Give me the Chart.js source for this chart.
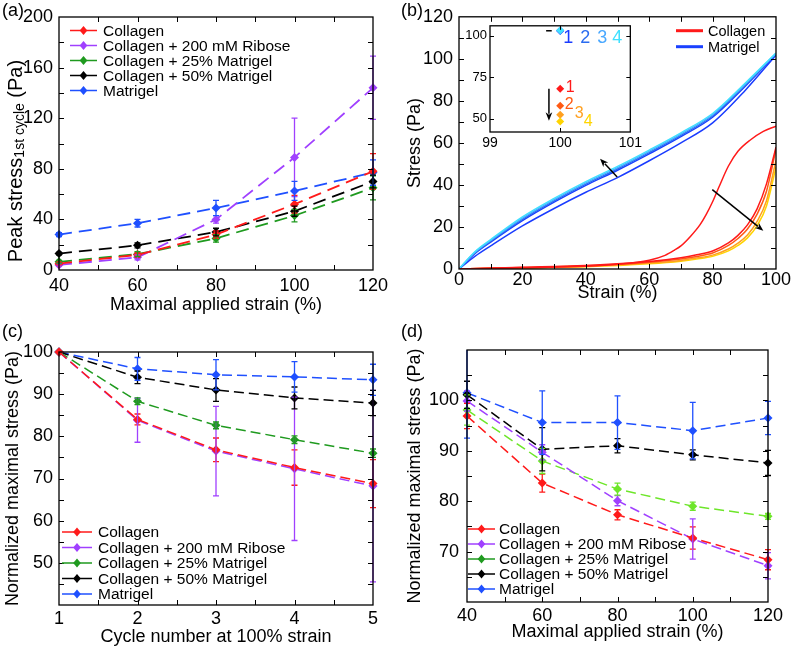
<!DOCTYPE html>
<html>
<head>
<meta charset="utf-8">
<script src="https://cdn.jsdelivr.net/npm/chart.js@4.4.1/dist/chart.umd.min.js"></script>
<style>
  body { margin: 0; background: #fff; font-family: "Liberation Sans", Arial, Helvetica, sans-serif; }
  #page { position: relative; width: 792px; height: 648px; overflow: hidden; }
  #page canvas { position: absolute; }
  .tag { position: absolute; font-size: 18px; line-height: 20px; }
</style>
</head>
<body>
<div id="page">
  <canvas id="chartA" width="396" height="320" style="left:0;top:0"></canvas>
  <canvas id="chartB" width="396" height="320" style="left:396px;top:0"></canvas>
  <canvas id="chartInset" width="183" height="137" style="left:462px;top:15px"></canvas>
  <canvas id="chartC" width="396" height="328" style="left:0;top:320px"></canvas>
  <canvas id="chartD" width="396" height="328" style="left:396px;top:320px"></canvas>
  <div class="tag" style="left:2px;top:0">(a)</div>
  <div class="tag" style="left:401px;top:0">(b)</div>
  <div class="tag" style="left:2px;top:321px">(c)</div>
  <div class="tag" style="left:401px;top:321px">(d)</div>
</div>
<script>
const FONT = '"Liberation Sans", Arial, Helvetica, sans-serif';

const seriesNames = ['Collagen', 'Collagen + 200 mM Ribose', 'Collagen + 25% Matrigel', 'Collagen + 50% Matrigel', 'Matrigel'];
const seriesColors = ['#ff1a1a', '#a040ff', '#1f9a1f', '#000000', '#1f50ff'];
const limeGreen = '#6ee62a';

// (a) peak stress of the 1st cycle vs maximal applied strain
const appliedStrain = [40, 60, 80, 100, 120];
const peakCollagen = [5, 12, 28, 52, 78];
const peakRibose = [4, 10, 40, 89, 144];
const peakMat25 = [6.5, 12.5, 25, 43, 65];
const peakMat50 = [13, 19.5, 30, 46.5, 70];
const peakMatrigel = [28, 37, 49, 62.5, 77];
const peakErrCollagen = [1, 2, 3, 7, 14];
const peakErrRibose = [1, 2, 3, 31, 25];
const peakErrMat25 = [1, 2, 3, 5, 9.5];
const peakErrMat50 = [1, 2, 3, 4, 5];
const peakErrMatrigel = [1.5, 3, 6, 7.5, 10];

// (b) stress-strain loops, 4 cycles
const matrigelStrain = [0, 5, 10, 20, 30, 40, 50, 60, 70, 80, 90, 100];
const matrigelLoad1 = [0, 6.0, 11.0, 20.5, 28.8, 36.5, 43.5, 51.5, 60.0, 69.5, 84.5, 101.8];
const matrigelUnload1 = [0, 7.3, 12.8, 23.0, 31.8, 39.8, 47.0, 54.8, 63.0, 72.2, 86.5, 102.2];
const matrigelCycle2 = [0, 7.6, 13.2, 23.6, 32.4, 40.4, 47.6, 55.4, 63.6, 72.8, 87.0, 102.4];
const matrigelCycle3 = [0, 7.9, 13.6, 24.2, 33.0, 41.0, 48.2, 56.0, 64.2, 73.4, 87.5, 102.6];
const matrigelCycle4 = [0, 8.2, 14.0, 24.8, 33.6, 41.6, 48.8, 56.6, 64.8, 74.0, 88.0, 102.8];
const collagenStrain1 = [0, 20, 40, 50, 60, 65, 68, 70, 73, 76, 78, 80, 82, 85, 88, 92, 96, 100];
const collagenLoad1 = [0, 0.6, 1.3, 2.2, 4.2, 6.5, 9, 11, 15.5, 21, 26, 32, 39, 49, 56, 61.5, 65.5, 68];
const collagenStrain = [0, 20, 40, 60, 70, 75, 80, 85, 88, 91, 94, 97, 100];
const collagenUnload1 = [0, 0.8, 1.7, 3.6, 5.4, 6.8, 8.6, 12.4, 16, 21, 28.5, 40.5, 58];
const collagenCycle2 = [0, 0.7, 1.5, 3.2, 4.8, 6.0, 7.6, 11.2, 14.5, 19, 26, 37, 57];
const collagenCycle3 = [0, 0.6, 1.3, 2.8, 4.1, 5.2, 6.6, 9.5, 12.3, 16.2, 22.5, 32.5, 51.7];
const collagenCycle4 = [0, 0.5, 1.1, 2.5, 3.7, 4.7, 6.0, 8.6, 11.2, 14.8, 20.5, 30, 48.5];
const collagenCycleColors = ['#ff1a1a', '#ff5a14', '#ffa020', '#ffd400'];
const matrigelCycleColors = ['#1a3cff', '#2a6cf0', '#4aa8ff', '#40e0ff'];

// (b) inset: peak stress per cycle
const insetStrain = [100, 100, 100, 100];
const insetMatrigel = [102.9, 103.1, 103.2, 103.3];
const insetCollagen = [68.1, 57.8, 52.4, 48.4];
const insetTicksY = [50, 75, 100];
const cycleLabels = ['1', '2', '3', '4'];

// (c) normalized maximal stress vs cycle number
const cycleNumber = [1, 2, 3, 4, 5];
const cycCollagen = [100, 84, 76.8, 72.6, 68.8];
const cycRibose = [100, 83.8, 76.5, 72.3, 68.2];
const cycMat25 = [100, 88.3, 82.6, 79.2, 76];
const cycMat50 = [100, 94, 91, 89.1, 87.9];
const cycMatrigel = [100, 96, 94.6, 94.1, 93.4];
const cycErrCollagen = [0, 1.3, 2.8, 4.2, 5.7];
const cycErrRibose = [0, 5.2, 10.6, 17, 22.7];
const cycErrMat25 = [0, 0.8, 0.8, 0.9, 1];
const cycErrMat50 = [0, 1.5, 2.7, 2.6, 3];
const cycErrMatrigel = [0, 2.7, 3.6, 3.6, 3.7];

// (d) normalized maximal stress vs maximal applied strain
const normCollagen = [96.9, 83.6, 77.3, 72.7, 68.4];
const normRibose = [99.9, 89.7, 80.1, 72.5, 67.2];
const normMat25 = [98.1, 88.0, 82.4, 79.0, 77.0];
const normMat50 = [101.1, 90.3, 91.0, 89.2, 87.6];
const normMatrigel = [101.5, 95.6, 95.6, 94.0, 96.5];
const normErrCollagen = [2.5, 1.8, 1, 2.2, 2];
const normErrRibose = [2, 1.5, 1, 4, 2.6];
const normErrMat25 = [3, 2.5, 1.2, 0.8, 0.6];
const normErrMat50 = [2.7, 4.3, 1.4, 1.0, 2.5];
const normErrMatrigel = [9, 6.3, 5.3, 5.6, 3.3];

Chart.defaults.font.family = FONT;
Chart.defaults.font.size = 18;
Chart.defaults.color = '#000';
Chart.defaults.animation = false;
Chart.defaults.plugins.legend.display = false;
Chart.defaults.plugins.tooltip.enabled = false;

function diamond(ctx, x, y, r, color) {
    ctx.fillStyle = color;
    ctx.beginPath();
    ctx.moveTo(x, y - r);
    ctx.lineTo(x + r * 0.85, y);
    ctx.lineTo(x, y + r);
    ctx.lineTo(x - r * 0.85, y);
    ctx.closePath();
    ctx.fill();
}

// box around the plot area with inward ticks on all four sides (matlab look)
const framePlugin = {
    id: 'frame',
    afterDraw(chart, args, opts) {
        const { ctx, chartArea: a, scales } = chart;
        const len = opts.len || 5;
        ctx.save();
        ctx.strokeStyle = '#000';
        ctx.lineWidth = 1;
        ctx.beginPath();
        scales.x.ticks.forEach(t => {
            const px = Math.round(scales.x.getPixelForValue(t.value)) + 0.5;
            if (px <= a.left + 2 || px >= a.right - 2) return;
            ctx.moveTo(px, a.bottom); ctx.lineTo(px, a.bottom - len);
            ctx.moveTo(px, a.top); ctx.lineTo(px, a.top + len);
        });
        scales.y.ticks.forEach(t => {
            const py = Math.round(scales.y.getPixelForValue(t.value)) + 0.5;
            if (py <= a.top + 2 || py >= a.bottom - 2) return;
            ctx.moveTo(a.left, py); ctx.lineTo(a.left + len, py);
            ctx.moveTo(a.right, py); ctx.lineTo(a.right - len, py);
        });
        ctx.stroke();
        ctx.lineWidth = 1.3;
        ctx.strokeRect(a.left, a.top, a.right - a.left, a.bottom - a.top);
        ctx.restore();
    }
};

const errorBarPlugin = {
    id: 'errorBars',
    afterDatasetsDraw(chart) {
        const ctx = chart.ctx;
        const ys = chart.scales.y;
        chart.data.datasets.forEach((ds, i) => {
            if (!ds.errors) return;
            const meta = chart.getDatasetMeta(i);
            ctx.save();
            ctx.strokeStyle = ds.borderColor;
            ctx.lineWidth = 1.3;
            meta.data.forEach((pt, j) => {
                const e = ds.errors[j];
                if (!e) return;
                const v = ds.data[j].y;
                const top = Math.max(ys.getPixelForValue(v + e), chart.chartArea.top);
                const bot = ys.getPixelForValue(v - e);
                ctx.beginPath();
                ctx.moveTo(pt.x, top); ctx.lineTo(pt.x, bot);
                if (top > chart.chartArea.top) { ctx.moveTo(pt.x - 3, top); ctx.lineTo(pt.x + 3, top); }
                ctx.moveTo(pt.x - 3, bot); ctx.lineTo(pt.x + 3, bot);
                ctx.stroke();
            });
            ctx.restore();
        });
    }
};

// legend drawn inside the plot box: line sample, optional diamond, text
const keyPlugin = {
    id: 'key',
    afterDraw(chart, args, o) {
        if (!o.items) return;
        const ctx = chart.ctx;
        ctx.save();
        ctx.font = o.size + 'px ' + FONT;
        ctx.textBaseline = 'middle';
        o.items.forEach((it, i) => {
            const y = o.y + i * o.rowH;
            ctx.strokeStyle = it.color;
            ctx.lineWidth = o.lineWidth;
            ctx.beginPath();
            ctx.moveTo(o.x, y); ctx.lineTo(o.x + o.lineLen, y);
            ctx.stroke();
            if (o.marker) diamond(ctx, o.x + o.lineLen / 2, y, 4.5, it.color);
            ctx.fillStyle = '#000';
            ctx.fillText(it.text, o.textX, y + 1);
        });
        ctx.restore();
    }
};

// arrows given in data units of the chart
const arrowPlugin = {
    id: 'arrows',
    afterDatasetsDraw(chart, args, o) {
        if (!o.list) return;
        const { ctx, scales: { x, y } } = chart;
        ctx.save();
        ctx.strokeStyle = '#000';
        ctx.fillStyle = '#000';
        ctx.lineWidth = 1.5;
        o.list.forEach(a => {
            const x0 = x.getPixelForValue(a[0]), y0 = y.getPixelForValue(a[1]);
            const x1 = x.getPixelForValue(a[2]), y1 = y.getPixelForValue(a[3]);
            const ang = Math.atan2(y1 - y0, x1 - x0);
            const h = o.head || 9;
            ctx.beginPath();
            ctx.moveTo(x0, y0);
            ctx.lineTo(x1 - (h - 2) * Math.cos(ang), y1 - (h - 2) * Math.sin(ang));
            ctx.stroke();
            ctx.beginPath();
            ctx.moveTo(x1, y1);
            ctx.lineTo(x1 - h * Math.cos(ang - 0.38), y1 - h * Math.sin(ang - 0.38));
            ctx.lineTo(x1 - (h - 3) * Math.cos(ang), y1 - (h - 3) * Math.sin(ang));
            ctx.lineTo(x1 - h * Math.cos(ang + 0.38), y1 - h * Math.sin(ang + 0.38));
            ctx.closePath();
            ctx.fill();
        });
        ctx.restore();
    }
};

function axis(min, max, step, showLabel, pad, size, fitKey, fitVal, title) {
    const cfg = {
        type: 'linear',
        min: min,
        max: max,
        grid: { display: false, drawTicks: false },
        border: { display: false },
        ticks: {
            stepSize: step,
            autoSkip: false,
            maxRotation: 0,
            padding: pad,
            font: { size: size },
            callback: v => (showLabel(v) ? v : ''),
        },
        afterFit: s => { s[fitKey] = fitVal; },
    };
    if (title) cfg.title = title;
    return cfg;
}

const every = n => v => Math.abs(v / n - Math.round(v / n)) < 1e-6;

function series(label, xs, ys, errs, color, dash, width) {
    return {
        label: label,
        data: xs.map((x, i) => ({ x: x, y: ys[i] })),
        errors: errs,
        borderColor: color,
        backgroundColor: color,
        borderWidth: width || 1.5,
        borderDash: dash,
        pointStyle: 'rectRot',
        pointRadius: 4.5,
        pointBorderWidth: 0,
        pointBackgroundColor: color,
        clip: false,
    };
}

function curve(xs, ys, color) {
    return {
        data: xs.map((x, i) => ({ x: x, y: ys[i] })),
        borderColor: color,
        borderWidth: 1.5,
        pointRadius: 0,
        cubicInterpolationMode: 'monotone',
    };
}

const legendItems = seriesNames.map((t, i) => ({ text: t, color: seriesColors[i] }));

// ---------- (a)
const peakTitle = {
    id: 'peakTitle',
    afterDraw(chart) {
        const ctx = chart.ctx;
        const parts = [['Peak stress', 20, 0], ['1st cycle', 14, 4], [' (Pa)', 20, 0]];
        ctx.save();
        let w = 0;
        parts.forEach(p => { ctx.font = p[1] + 'px ' + FONT; w += ctx.measureText(p[0]).width; });
        ctx.translate(16, 161);
        ctx.rotate(-Math.PI / 2);
        ctx.fillStyle = '#000';
        ctx.textBaseline = 'middle';
        let x = -w / 2;
        parts.forEach(p => {
            ctx.font = p[1] + 'px ' + FONT;
            ctx.fillText(p[0], x, p[2]);
            x += ctx.measureText(p[0]).width;
        });
        ctx.restore();
    }
};

new Chart(document.getElementById('chartA'), {
    type: 'line',
    data: {
        datasets: [
            series(seriesNames[0], appliedStrain, peakCollagen, peakErrCollagen, seriesColors[0], [13, 7], 1.8),
            series(seriesNames[1], appliedStrain, peakRibose, peakErrRibose, seriesColors[1], [13, 7], 1.8),
            series(seriesNames[2], appliedStrain, peakMat25, peakErrMat25, seriesColors[2], [13, 7], 1.8),
            series(seriesNames[3], appliedStrain, peakMat50, peakErrMat50, seriesColors[3], [13, 7], 1.8),
            series(seriesNames[4], appliedStrain, peakMatrigel, peakErrMatrigel, seriesColors[4], [13, 7], 1.8),
        ]
    },
    options: {
        responsive: false,
        layout: { padding: { top: 17, right: 23, left: 0, bottom: 0 } },
        scales: {
            x: axis(40, 120, 10, every(20), 5, 18, 'height', 50,
                { display: true, text: 'Maximal applied strain (%)', font: { size: 18 }, padding: { top: 0, bottom: 4 } }),
            y: axis(0, 200, 20, every(40), 6, 18, 'width', 59),
        },
        plugins: {
            key: { items: legendItems, x: 70, y: 30.5, rowH: 15, lineLen: 27, textX: 103, size: 15.5, lineWidth: 1.5, marker: true },
        }
    },
    plugins: [errorBarPlugin, framePlugin, keyPlugin, peakTitle]
});

// ---------- (b)
new Chart(document.getElementById('chartB'), {
    type: 'line',
    data: {
        datasets: [
            curve(collagenStrain1, collagenLoad1, collagenCycleColors[0]),
            curve(collagenStrain, collagenUnload1, collagenCycleColors[0]),
            curve(collagenStrain, collagenCycle2, collagenCycleColors[1]),
            curve(collagenStrain, collagenCycle3, collagenCycleColors[2]),
            curve(collagenStrain, collagenCycle4, collagenCycleColors[3]),
            curve(matrigelStrain, matrigelCycle4, matrigelCycleColors[3]),
            curve(matrigelStrain, matrigelCycle3, matrigelCycleColors[2]),
            curve(matrigelStrain, matrigelCycle2, matrigelCycleColors[1]),
            curve(matrigelStrain, matrigelUnload1, matrigelCycleColors[0]),
            curve(matrigelStrain, matrigelLoad1, matrigelCycleColors[0]),
        ]
    },
    options: {
        responsive: false,
        layout: { padding: { top: 16, right: 16, left: 5, bottom: 12 } },
        scales: {
            x: axis(0, 100, 10, every(20), 0, 18, 'height', 39,
                { display: true, text: 'Strain (%)', font: { size: 18 }, padding: { top: 0, bottom: 4 } }),
            y: axis(0, 120, 10, every(20), 6, 18, 'width', 58,
                { display: true, text: 'Stress (Pa)', font: { size: 18 }, padding: { top: 3, bottom: 0 } }),
        },
        plugins: {
            key: {
                items: [{ text: 'Collagen', color: '#ff1a1a' }, { text: 'Matrigel', color: '#1a40ff' }],
                x: 280, y: 30.7, rowH: 16, lineLen: 27, textX: 312, size: 14.5, lineWidth: 3, marker: false
            },
            arrows: { list: [[49.9, 43.8, 44.5, 52.5], [79.9, 37.8, 96, 18.2]] },
        }
    },
    plugins: [framePlugin, keyPlugin, arrowPlugin]
});

// ---------- (b) inset
const insetLabels = {
    id: 'insetLabels',
    beforeDraw(chart) {
        const { ctx, chartArea: a } = chart;
        ctx.save();
        ctx.fillStyle = '#fff';
        ctx.fillRect(a.left, a.top, a.right - a.left, a.bottom - a.top);
        ctx.restore();
    },
    afterDraw(chart) {
        const { ctx, scales: { x, y } } = chart;
        const px = x.getPixelForValue(insetStrain[0]);
        ctx.save();
        ctx.textBaseline = 'middle';
        ctx.textAlign = 'center';
        const blueOff = [8, 25, 42, 57];
        ctx.font = '18px ' + FONT;
        cycleLabels.forEach((t, i) => {
            ctx.fillStyle = matrigelCycleColors[i];
            ctx.fillText(t, px + blueOff[i], y.getPixelForValue(insetMatrigel[0]) + 7);
        });
        const redOff = [[10, -1.5], [9, -1.5], [19, -1], [28, 0]];
        ctx.font = '16px ' + FONT;
        cycleLabels.forEach((t, i) => {
            ctx.fillStyle = collagenCycleColors[i];
            ctx.fillText(t, px + redOff[i][0], y.getPixelForValue(insetCollagen[i]) + redOff[i][1]);
        });
        // short black dash left of the matrigel marker
        ctx.strokeStyle = '#000';
        ctx.lineWidth = 1.5;
        ctx.beginPath();
        ctx.moveTo(x.getPixelForValue(99.8), y.getPixelForValue(103));
        ctx.lineTo(x.getPixelForValue(99.88), y.getPixelForValue(103));
        ctx.stroke();
        ctx.restore();
    }
};

const insetY = axis(42, 106, 25, () => true, 3, 13, 'width', 28);
insetY.afterBuildTicks = s => { s.ticks = insetTicksY.map(v => ({ value: v })); };

new Chart(document.getElementById('chartInset'), {
    type: 'line',
    data: {
        datasets: [
            {
                data: insetStrain.map((x, i) => ({ x: x, y: insetCollagen[i] })),
                showLine: false, pointStyle: 'rectRot', pointRadius: 4, pointBorderWidth: 0,
                pointBackgroundColor: collagenCycleColors, borderColor: '#ff1a1a',
            },
            {
                data: insetStrain.map((x, i) => ({ x: x, y: insetMatrigel[i] })),
                showLine: false, pointStyle: 'rectRot', pointRadius: 4, pointBorderWidth: 0,
                pointBackgroundColor: matrigelCycleColors, borderColor: '#1a3cff',
            },
        ]
    },
    options: {
        responsive: false,
        layout: { padding: { top: 0, right: 0, left: 0, bottom: 0 } },
        scales: {
            x: axis(99, 101, 1, every(1), 3, 14, 'height', 20),
            y: insetY,
        },
        plugins: {
            frame: { len: 4 },
            arrows: { list: [[99.84, 68, 99.84, 48.8]], head: 9 },
        }
    },
    plugins: [insetLabels, framePlugin, arrowPlugin]
});

// ---------- (c)
new Chart(document.getElementById('chartC'), {
    type: 'line',
    data: {
        datasets: [
            series(seriesNames[0], cycleNumber, cycCollagen, cycErrCollagen, seriesColors[0], [10, 5]),
            series(seriesNames[1], cycleNumber, cycRibose, cycErrRibose, seriesColors[1], [10, 5]),
            series(seriesNames[2], cycleNumber, cycMat25, cycErrMat25, seriesColors[2], [10, 5]),
            series(seriesNames[3], cycleNumber, cycMat50, cycErrMat50, seriesColors[3], [10, 5]),
            series(seriesNames[4], cycleNumber, cycMatrigel, cycErrMatrigel, seriesColors[4], [10, 5]),
        ]
    },
    options: {
        responsive: false,
        layout: { padding: { top: 32, right: 23, left: 0, bottom: 0 } },
        scales: {
            x: axis(1, 5, 0.5, every(1), 3, 18, 'height', 43,
                { display: true, text: 'Cycle number at 100% strain', font: { size: 18 }, padding: { top: 0, bottom: 0 } }),
            y: axis(40, 100, 5, v => v >= 50 && every(10)(v), 6, 18, 'width', 59,
                { display: true, text: 'Normalized maximal stress (Pa)', font: { size: 18 }, padding: { top: 2, bottom: 0 } }),
        },
        plugins: {
            key: { items: legendItems, x: 62, y: 212, rowH: 15.5, lineLen: 30, textX: 98, size: 15.5, lineWidth: 1.5, marker: true },
        }
    },
    plugins: [errorBarPlugin, framePlugin, keyPlugin]
});

// ---------- (d)
new Chart(document.getElementById('chartD'), {
    type: 'line',
    data: {
        datasets: [
            series(seriesNames[0], appliedStrain, normCollagen, normErrCollagen, seriesColors[0], [10, 5]),
            series(seriesNames[1], appliedStrain, normRibose, normErrRibose, seriesColors[1], [10, 5]),
            series(seriesNames[2], appliedStrain, normMat25, normErrMat25, limeGreen, [10, 5]),
            series(seriesNames[3], appliedStrain, normMat50, normErrMat50, seriesColors[3], [10, 5]),
            series(seriesNames[4], appliedStrain, normMatrigel, normErrMatrigel, seriesColors[4], [10, 5]),
        ]
    },
    options: {
        responsive: false,
        layout: { padding: { top: 30, right: 24, left: 5, bottom: 0 } },
        scales: {
            x: axis(40, 120, 10, every(20), 3, 18, 'height', 46,
                { display: true, text: 'Maximal applied strain (%)', font: { size: 18 }, padding: { top: 0, bottom: 5 } }),
            y: axis(60, 110, 5, v => v >= 70 && v <= 100 && every(10)(v), 8, 18, 'width', 66,
                { display: true, text: 'Normalized maximal stress (Pa)', font: { size: 18 }, padding: { top: 3, bottom: 0 } }),
        },
        plugins: {
            key: { items: legendItems, x: 72, y: 209, rowH: 15, lineLen: 27, textX: 103, size: 15.5, lineWidth: 1.5, marker: true },
        }
    },
    plugins: [errorBarPlugin, framePlugin, keyPlugin]
});
</script>
</body>
</html>
